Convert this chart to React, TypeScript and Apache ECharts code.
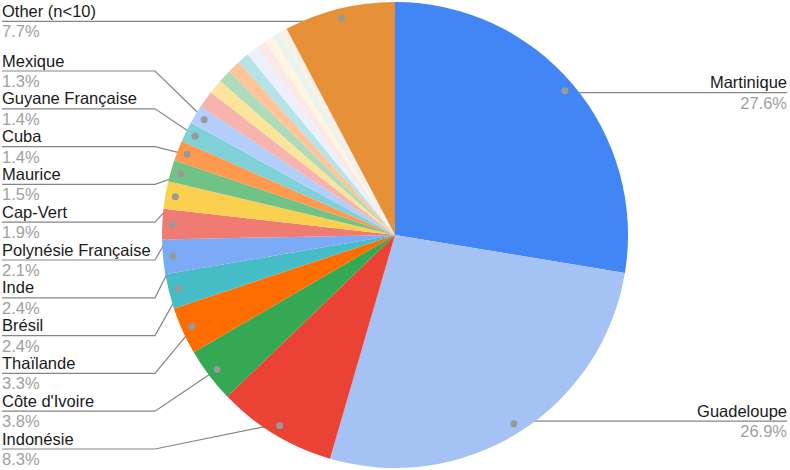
import React, { useEffect, useRef } from "react";
import * as echarts from "echarts";

// ---- Data (percent shares, clockwise from 12 o'clock) ----
const countries: string[] = [
  "Martinique",
  "Guadeloupe",
  "Indonésie",
  "Côte d'Ivoire",
  "Thaïlande",
  "Brésil",
  "Inde",
  "Polynésie Française",
  "Cap-Vert",
  "Maurice",
  "Cuba",
  "Guyane Française",
  "Mexique",
  "Pays 14",
  "Pays 15",
  "Pays 16",
  "Pays 17",
  "Pays 18",
  "Pays 19",
  "Pays 20",
  "Pays 21",
  "Pays 22",
  "Pays 23",
  "Other (n<10)",
];

const shares: number[] = [
  27.6, 26.9, 8.3, 3.8, 3.3, 2.4, 2.4, 2.1, 1.9, 1.5, 1.4, 1.4, 1.3,
  1.2, 1.0, 0.9, 0.9, 0.8, 0.8, 0.7, 0.6, 0.6, 0.5,
  7.7,
];

const labeled: boolean[] = [
  true, true, true, true, true, true, true, true, true, true, true, true, true,
  false, false, false, false, false, false, false, false, false, false,
  true,
];

// ---- Styles ----
const sliceColors: string[] = [
  "#4285f4", "#a4c2f4", "#ea4335", "#34a853", "#ff6d01", "#46bdc6",
  "#7baaf7", "#f07b72", "#fcd04f", "#71c287", "#ff994d", "#7ed1d7",
  "#b3cefb", "#f7b4ae", "#fde49b", "#aedcba", "#ffc599", "#b5e3e8",
  "#ecf0fd", "#fde8e8", "#fff6e2", "#e9f5ec", "#fdeee6",
  "#e69138",
];

const CX = 395;
const CY = 235;
const R = 233;
const DOT_R = 220;
const LEFT_X = 2;
const ELBOW_X = 155;
const RIGHT_X = 787;
const LEFT_BOTTOM = 449;
const LEFT_STEP = 37.8;
const FONT = "'Liberation Sans', Arial, Helvetica, sans-serif";

export default function App() {
  const ref = useRef<HTMLDivElement>(null);

  useEffect(() => {
    if (!ref.current) return;
    const chart = echarts.init(ref.current, undefined, { renderer: "svg" });

    const total = shares.reduce((a, b) => a + b, 0);
    let acc = 0;
    const mids = shares.map((v) => {
      const m = (acc + v / 2) / total;
      acc += v;
      return m;
    });
    const dots = mids.map((m) => {
      const a = m * Math.PI * 2;
      return [CX + DOT_R * Math.sin(a), CY - DOT_R * Math.cos(a)];
    });

    // left-side labels stacked from the bottom; the topmost one stays level with its slice
    const leftIdx = shares
      .map((_, i) => i)
      .filter((i) => labeled[i] && dots[i][0] < CX)
      .sort((a, b) => mids[a] - mids[b]);
    const lineY: Record<number, number> = {};
    leftIdx.forEach((i, k) => {
      lineY[i] = k === leftIdx.length - 1 ? dots[i][1] : LEFT_BOTTOM - LEFT_STEP * k;
    });

    const data = countries.map((name, i) => ({
      name,
      value: shares[i],
      itemStyle: { color: sliceColors[i] },
      label: { show: labeled[i] },
      labelLine: { show: labeled[i] },
    }));

    chart.setOption({
      animation: false,
      series: [
        {
          type: "pie",
          center: [CX, CY],
          radius: [0, R],
          startAngle: 90,
          clockwise: true,
          avoidLabelOverlap: false,
          silent: true,
          data,
          itemStyle: { borderWidth: 0 },
          label: {
            position: "outside",
            overflow: "none",
            formatter: (p: any) => `{n|${p.name}}\n{v|${Number(p.value).toFixed(1)}%}`,
            rich: {
              n: { fontSize: 16.5, fontFamily: FONT, color: "#1a1a1a", lineHeight: 20 },
              v: { fontSize: 16.5, fontFamily: FONT, color: "#a0a0a0", lineHeight: 21 },
            },
          },
          labelLine: {
            show: true,
            length: 10,
            length2: 10,
            lineStyle: { color: "#858585", width: 1.2 },
          },
          labelLayout: (params: any) => {
            const i = params.dataIndex;
            if (!labeled[i]) return {};
            const [dx, dy] = dots[i];
            if (dx >= CX) {
              return {
                x: RIGHT_X,
                y: dy,
                align: "right",
                verticalAlign: "middle",
                labelLinePoints: [
                  [dx, dy],
                  [dx, dy],
                  [RIGHT_X, dy],
                ],
              };
            }
            const y = lineY[i];
            return {
              x: LEFT_X,
              y,
              align: "left",
              verticalAlign: "middle",
              labelLinePoints: [
                [dx, dy],
                [ELBOW_X, y],
                [LEFT_X, y],
              ],
            };
          },
        },
        {
          type: "pie",
          center: [CX, CY],
          radius: [DOT_R - (R - DOT_R), R],
          startAngle: 90,
          clockwise: true,
          avoidLabelOverlap: false,
          silent: true,
          z: 5,
          data: countries.map((name, i) => ({
            name,
            value: shares[i],
            itemStyle: { color: "rgba(0,0,0,0)" },
            label: { show: labeled[i] },
          })),
          label: {
            position: "inside",
            formatter: "{d| }",
            rich: {
              d: { width: 7, height: 7, borderRadius: 3.5, backgroundColor: "#999999" },
            },
          },
          labelLine: { show: false },
          emphasis: { disabled: true },
        },
      ],
    });

    return () => chart.dispose();
  }, []);

  return (
    <div
      ref={ref}
      style={{ position: "absolute", left: 0, top: 0, width: 790, height: 470 }}
    />
  );
}
